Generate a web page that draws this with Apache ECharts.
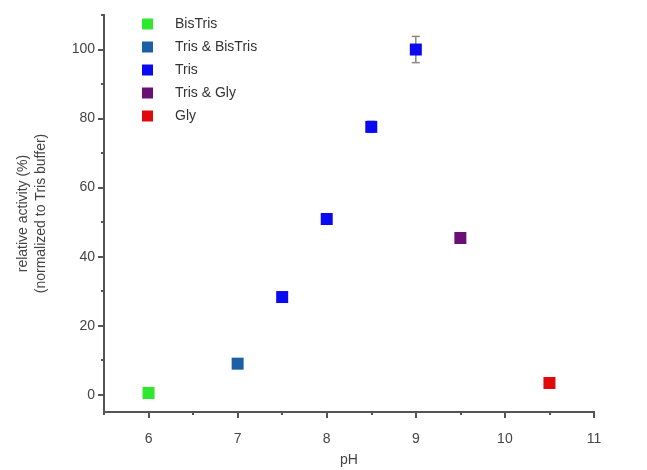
<!DOCTYPE html>
<html>
<head>
<meta charset="utf-8">
<script src="https://cdn.jsdelivr.net/npm/echarts@6/dist/echarts.min.js"></script>
<style>
  html, body { margin: 0; padding: 0; background: #fff; }
  #chart { width: 647px; height: 470px; }
</style>
</head>
<body>
<div id="chart"></div>
<script>
// values
const seriesNames = ['BisTris', 'Tris & BisTris', 'Tris', 'Tris & Gly', 'Gly']
const seriesColors = ['#2ee82e', '#1c5fa6', '#0a0af0', '#6a0f74', '#e00a0a']
const bisTris = [[6, 0.5]]
const trisBisTris = [[7, 9]]
const tris = [[7.5, 28.3], [8, 50.9], [8.5, 77.6], [9, 100]]
const trisGly = [[9.5, 45.4]]
const gly = [[10.5, 3.4]]
// [pH, low, high]
const trisErrors = [[7.5, 27.3, 29.3], [8, 50, 51.8], [8.5, 76, 79.2], [9, 96.2, 103.8]]

const xMajor = [6, 7, 8, 9, 10, 11]
const xMinor = [5.5, 6.5, 7.5, 8.5, 9.5, 10.5]
const yMajor = [0, 20, 40, 60, 80, 100]
const yMinor = [10, 30, 50, 70, 90, 110]

const font = 'Liberation Sans, Arial, sans-serif'
const axisColor = '#555'

const chart = echarts.init(document.getElementById('chart'))

function xAxisOf (ticks, len, labels) {
  return {
    type: 'value', min: 5.5, max: 11, position: 'bottom',
    axisLine: { show: true, onZero: false, lineStyle: { color: axisColor, width: 2 } },
    axisTick: { show: true, length: len, customValues: ticks, lineStyle: { color: axisColor, width: 2 } },
    axisLabel: labels
      ? { show: true, customValues: xMajor, color: '#444', fontSize: 14, fontFamily: font, margin: 20 }
      : { show: false },
    splitLine: { show: false },
    name: labels ? 'pH' : '',
    nameLocation: 'middle', nameGap: 41,
    nameTextStyle: { color: '#444', fontSize: 14, fontFamily: font }
  }
}
function yAxisOf (ticks, len, labels) {
  return {
    type: 'value', min: -5, max: 110, position: 'left',
    axisLine: { show: true, onZero: false, lineStyle: { color: axisColor, width: 2 } },
    axisTick: { show: true, length: len, customValues: ticks, lineStyle: { color: axisColor, width: 2 } },
    axisLabel: labels
      ? { show: true, customValues: yMajor, color: '#444', fontSize: 14, fontFamily: font, margin: 9 }
      : { show: false },
    splitLine: { show: false },
    name: labels ? 'relative activity (%)\n(normalized to Tris buffer)' : '',
    nameLocation: 'middle', nameGap: 54, nameRotate: 90,
    nameTextStyle: { color: '#444', fontSize: 14, fontFamily: font, lineHeight: 18 }
  }
}

function scatter (i, data) {
  return {
    name: seriesNames[i], type: 'scatter', data: data,
    symbol: 'rect', symbolSize: 12, z: 5,
    xAxisIndex: 0, yAxisIndex: 0,
    itemStyle: { color: seriesColors[i], opacity: 1 }
  }
}

chart.setOption({
  animation: false,
  grid: { left: 104, right: 53, top: 15, bottom: 58, containLabel: false, outerBoundsMode: 'none' },
  legend: {
    orient: 'vertical', left: 137, top: 12,
    icon: 'rect', itemWidth: 11, itemHeight: 11, itemGap: 9,
    textStyle: { color: '#333', fontSize: 14, fontFamily: font, padding: [0, 0, 0, 17] },
    data: seriesNames
  },
  xAxis: [xAxisOf(xMajor, 6, true), xAxisOf(xMinor, 3, false)],
  yAxis: [yAxisOf(yMajor, 6, true), yAxisOf(yMinor, 3, false)],
  series: [
    {
      type: 'custom', data: trisErrors, z: 3,
      renderItem: (params, api) => {
        const lo = api.coord([api.value(0), api.value(1)])
        const hi = api.coord([api.value(0), api.value(2)])
        const w = 4
        const style = { stroke: '#888', lineWidth: 1.5 }
        return {
          type: 'group',
          children: [
            { type: 'line', shape: { x1: lo[0], y1: lo[1], x2: hi[0], y2: hi[1] }, style },
            { type: 'line', shape: { x1: lo[0] - w, y1: lo[1], x2: lo[0] + w, y2: lo[1] }, style },
            { type: 'line', shape: { x1: hi[0] - w, y1: hi[1], x2: hi[0] + w, y2: hi[1] }, style }
          ]
        }
      }
    },
    scatter(0, bisTris),
    scatter(1, trisBisTris),
    scatter(2, tris),
    scatter(3, trisGly),
    scatter(4, gly)
  ]
})
</script>
</body>
</html>
